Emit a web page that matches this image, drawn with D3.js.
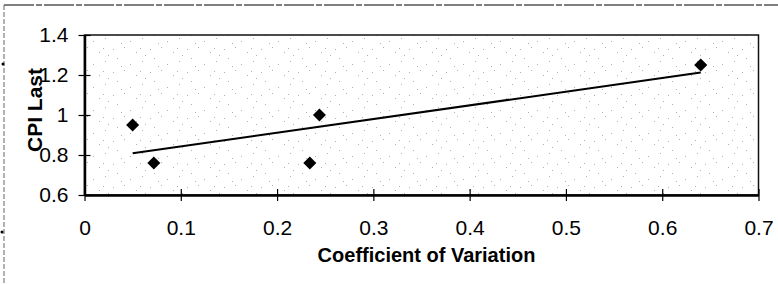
<!DOCTYPE html>
<html>
<head>
<meta charset="utf-8">
<script src="https://cdn.jsdelivr.net/npm/d3@7"></script>
<style>
  body { margin: 0; background: #fff; }
  text { font-family: Arial, "Liberation Sans", sans-serif; fill: #000; }
</style>
</head>
<body>
<div id="container"></div>
<script>
let w = 778;
let h = 284;

// data
let cov = [0.05, 0.072, 0.234, 0.244, 0.64];
let cpiLast = [0.95, 0.76, 0.76, 1.0, 1.25];
let xTicks = [0, 0.1, 0.2, 0.3, 0.4, 0.5, 0.6, 0.7];
let yTicks = [0.6, 0.8, 1, 1.2, 1.4];

let margin = {left: 84.5, right: 19.5, top: 35, bottom: 89};

let viz = d3.select("#container")
  .append("svg")
    .attr("width", w)
    .attr("height", h)
    .style("background-color", "#fff")
;

let x = d3.scaleLinear().domain([0, 0.7]).range([margin.left, w - margin.right]);
let y = d3.scaleLinear().domain([0.6, 1.4]).range([h - margin.bottom, margin.top]);

// speckled background like the scanned chart
let defs = viz.append("defs");
let pat = defs.append("pattern")
    .attr("id", "speck")
    .attr("width", 37)
    .attr("height", 23)
    .attr("patternUnits", "userSpaceOnUse")
;
[[2,3],[13,1],[25,6],[31,15],[6,12],[19,18],[29,2],[10,20],[34,9]].forEach(function(p){
  pat.append("rect")
      .attr("x", p[0]).attr("y", p[1])
      .attr("width", 1).attr("height", 1)
      .attr("fill", "#b0b0b0")
  ;
});

// outer frame
viz.append("line")
    .attr("x1", 4).attr("y1", 5).attr("x2", w).attr("y2", 5)
    .attr("stroke", "#555").attr("stroke-width", 1.5)
    .attr("stroke-dasharray", "30,2,6,2")
;
viz.append("line")
    .attr("x1", 4).attr("y1", 5).attr("x2", 4).attr("y2", h)
    .attr("stroke", "#666").attr("stroke-width", 1)
    .attr("stroke-dasharray", "5,2")
;
viz.append("circle").attr("cx", 3).attr("cy", 64).attr("r", 1.5).attr("fill", "#000");
viz.append("circle").attr("cx", 2).attr("cy", 232).attr("r", 1.5).attr("fill", "#000");

// plot area
viz.append("rect")
    .attr("x", x(0)).attr("y", y(1.4))
    .attr("width", x(0.7) - x(0)).attr("height", y(0.6) - y(1.4))
    .attr("fill", "url(#speck)")
    .attr("stroke", "#111").attr("stroke-width", 1.5)
;

// axes
let xAxis = d3.axisBottom(x).tickValues(xTicks).tickSizeInner(6).tickSizeOuter(0).tickFormat(d3.format("~g"));
let gx = viz.append("g")
    .attr("transform", "translate(0," + y(0.6) + ")")
    .call(xAxis)
;
gx.select(".domain").attr("stroke-width", 2.5);
gx.selectAll(".tick line").attr("y1", -6).attr("y2", 6).attr("stroke-width", 1.2);
gx.selectAll(".tick text")
    .attr("y", 25)
    .style("font-size", "21px")
    .style("font-family", "Arial, 'Liberation Sans', sans-serif")
;

let yAxis = d3.axisLeft(y).tickValues(yTicks).tickSizeInner(6).tickSizeOuter(0).tickFormat(d3.format("~g"));
let gy = viz.append("g")
    .attr("transform", "translate(" + x(0) + ",0)")
    .call(yAxis)
;
gy.select(".domain").attr("stroke-width", 2.5);
gy.selectAll(".tick line").attr("x1", -6).attr("x2", 6).attr("stroke-width", 1.2);
gy.selectAll(".tick text")
    .attr("x", -16)
    .style("font-size", "21px")
    .style("font-family", "Arial, 'Liberation Sans', sans-serif")
;

// linear trend line (least squares)
let mx = d3.mean(cov), my = d3.mean(cpiLast);
let sxy = d3.sum(cov, (d, i) => (d - mx) * (cpiLast[i] - my));
let sxx = d3.sum(cov, d => (d - mx) * (d - mx));
let slope = sxy / sxx;
let icpt = my - slope * mx;
let xMin = d3.min(cov), xMax = d3.max(cov);

viz.append("line")
    .attr("x1", x(xMin)).attr("y1", y(icpt + slope * xMin))
    .attr("x2", x(xMax)).attr("y2", y(icpt + slope * xMax))
    .attr("stroke", "#000").attr("stroke-width", 2)
;

// points
let diamond = d3.symbol().type(d3.symbolSquare).size(85);
viz.selectAll(".pt").data(cov).enter()
  .append("path")
    .attr("class", "pt")
    .attr("d", diamond)
    .attr("fill", "#000")
    .attr("transform", (d, i) => "translate(" + x(d) + "," + y(cpiLast[i]) + ") rotate(45)")
;

// axis titles
viz.append("text")
    .attr("x", (x(0) + x(0.7)) / 2 + 5)
    .attr("y", 262)
    .attr("text-anchor", "middle")
    .style("font-size", "20px")
    .style("font-weight", "bold")
    .text("Coefficient of Variation")
;
viz.append("text")
    .attr("transform", "translate(42," + 110 + ") rotate(-90)")
    .attr("text-anchor", "middle")
    .style("font-size", "21px")
    .style("font-weight", "bold")
    .text("CPI Last")
;
</script>
</body>
</html>
